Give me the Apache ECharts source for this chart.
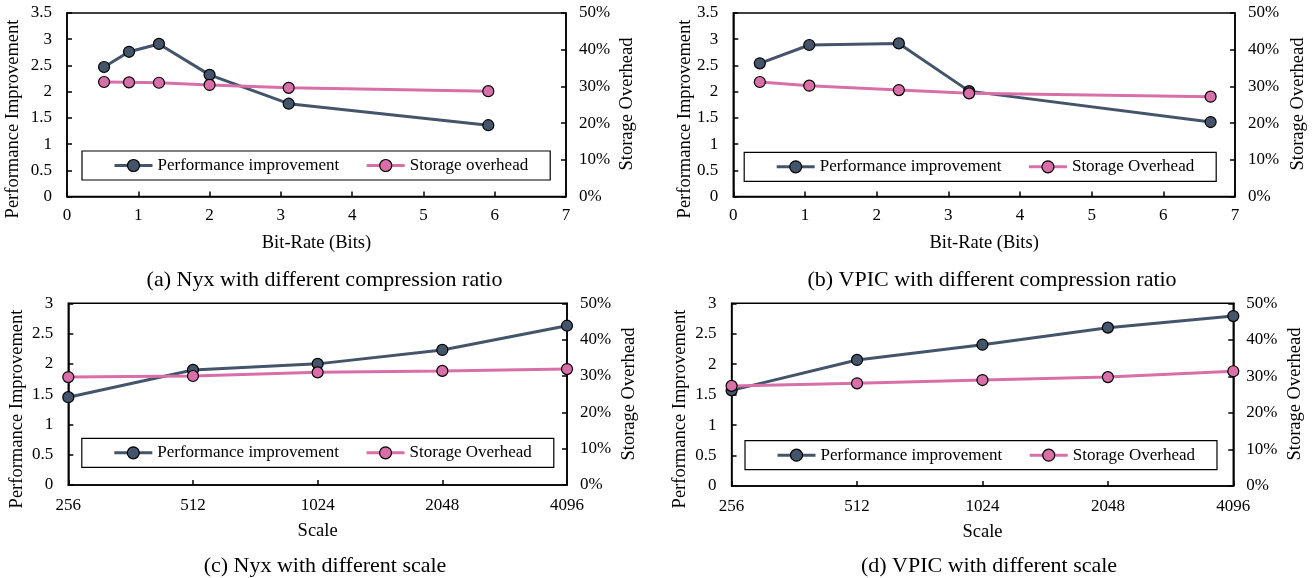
<!DOCTYPE html>
<html>
<head>
<meta charset="utf-8">
<script src="https://cdn.jsdelivr.net/npm/echarts@6/dist/echarts.min.js"></script>
<style>
html,body{margin:0;padding:0;background:#fff;}
#chart{width:1313px;height:578px;}
</style>
</head>
<body>
<div id="chart"></div>
<script>
// ---- data ----
const bitRateNyx = [0.52, 0.87, 1.29, 2.0, 3.11, 5.91];
const perfNyxBits = [2.47, 2.76, 2.91, 2.32, 1.77, 1.36];
const storNyxBits = [31.2, 31.1, 31.0, 30.4, 29.6, 28.7];

const bitRateVpic = [0.37, 1.06, 2.31, 3.29, 6.66];
const perfVpicBits = [2.54, 2.89, 2.92, 2.01, 1.42];
const storVpicBits = [31.2, 30.2, 29.0, 28.1, 27.2];

const scales = ['256', '512', '1024', '2048', '4096'];
const perfNyxScale = [1.45, 1.90, 2.00, 2.23, 2.63];
const storNyxScale = [29.7, 30.0, 31.0, 31.4, 31.9];
const perfVpicScale = [1.57, 2.07, 2.32, 2.60, 2.79];
const storVpicScale = [27.4, 28.1, 29.0, 29.8, 31.4];

const captions = [
  '(a) Nyx with different compression ratio',
  '(b) VPIC with different compression ratio',
  '(c) Nyx with different scale',
  '(d) VPIC with different scale'
];
const perfName = 'Performance improvement';
const storNameA = 'Storage overhead';
const storName = 'Storage Overhead';

// ---- styles ----
const FONT = 'Liberation Serif';
const DARK = '#44546A';
const PINK = '#D96FA8';
const AX = {color: '#000', width: 1.5};

function grid(left, top, width, height) {
  return {left, top, width, height, show: true, borderColor: '#000', borderWidth: 1.5, backgroundColor: 'transparent'};
}
function xValue(gi, name, gap) {
  return {
    gridIndex: gi, type: 'value', min: 0, max: 7, interval: 1,
    axisLine: {show: true, onZero: false, lineStyle: AX},
    axisTick: {show: true, inside: true, length: 5, lineStyle: AX},
    axisLabel: {color: '#000', fontSize: 17, fontFamily: FONT, margin: 11},
    splitLine: {show: false},
    name, nameLocation: 'middle', nameGap: gap,
    nameTextStyle: {color: '#000', fontSize: 18.5, fontFamily: FONT}
  };
}
function xCat(gi, name, gap) {
  return {
    gridIndex: gi, type: 'category', data: scales, boundaryGap: false,
    axisLine: {show: true, onZero: false, lineStyle: AX},
    axisTick: {show: true, inside: true, length: 5, lineStyle: AX},
    axisLabel: {color: '#000', fontSize: 17, fontFamily: FONT, margin: 12, interval: 0},
    splitLine: {show: false},
    name, nameLocation: 'middle', nameGap: gap,
    nameTextStyle: {color: '#000', fontSize: 18.5, fontFamily: FONT}
  };
}
function yLeft(gi, max) {
  return {
    gridIndex: gi, type: 'value', position: 'left', min: 0, max, interval: 0.5,
    axisLine: {show: true, lineStyle: AX},
    axisTick: {show: true, inside: true, length: 5, lineStyle: AX},
    axisLabel: {color: '#000', fontSize: 17, fontFamily: FONT, margin: 15},
    splitLine: {show: false}
  };
}
function yRight(gi) {
  return {
    gridIndex: gi, type: 'value', position: 'right', min: 0, max: 50, interval: 10,
    axisLine: {show: true, lineStyle: AX},
    axisTick: {show: true, inside: true, length: 5, lineStyle: AX},
    axisLabel: {color: '#000', fontSize: 17, fontFamily: FONT, margin: 13, formatter: '{value}%'},
    splitLine: {show: false}
  };
}
function line(name, color, xi, yi, data) {
  return {
    name, type: 'line', xAxisIndex: xi, yAxisIndex: yi, data,
    symbol: 'circle', symbolSize: 11,
    lineStyle: {color, width: 3},
    itemStyle: {color, borderColor: '#000', borderWidth: 1.2},
    emphasis: {disabled: true}
  };
}
function pairs(xs, ys) { return xs.map((x, i) => [x, ys[i]]); }
function legend(left, top, storN) {
  return {
    data: [perfName, storN], left, top, orient: 'horizontal',
    itemWidth: 38, itemHeight: 15, itemGap: 26,
    padding: [6, 22, 6, 31],
    borderColor: '#000', borderWidth: 1.2, backgroundColor: '#fff',
    selectedMode: false,
    lineStyle: {width: 3},
    itemStyle: {borderColor: '#000', borderWidth: 1.2},
    textStyle: {color: '#000', fontSize: 17, fontFamily: FONT}
  };
}
function vText(x, y, text) {
  return {
    type: 'text', x, y, rotation: Math.PI / 2,
    style: {text, fill: '#000', font: '18.5px "' + FONT + '"', align: 'center', verticalAlign: 'middle', textAlign: 'center', textVerticalAlign: 'middle'}
  };
}
function cap(x, y, text) {
  return {
    type: 'text', x, y,
    style: {text, fill: '#000', font: '22px "' + FONT + '"', align: 'center', verticalAlign: 'middle', textAlign: 'center', textVerticalAlign: 'middle'}
  };
}

const option = {
  animation: false,
  backgroundColor: '#fff',
  textStyle: {fontFamily: FONT},
  grid: [
    grid(67, 13, 499, 183.5),
    grid(733.3, 13, 501.7, 183.5),
    grid(68.3, 303.3, 498.7, 181.7),
    grid(731.6, 303.3, 501.7, 182.7)
  ],
  xAxis: [
    xValue(0, 'Bit-Rate (Bits)', 37),
    xValue(1, 'Bit-Rate (Bits)', 37),
    xCat(2, 'Scale', 36.5),
    xCat(3, 'Scale', 36.5)
  ],
  yAxis: [
    yLeft(0, 3.5), yRight(0),
    yLeft(1, 3.5), yRight(1),
    yLeft(2, 3), yRight(2),
    yLeft(3, 3), yRight(3)
  ],
  legend: [
    legend(82, 151, storNameA),
    legend(744.2, 152.3, storName),
    legend(81.8, 438.3, storName),
    legend(745, 440.7, storName)
  ],
  series: [
    line(perfName, DARK, 0, 0, pairs(bitRateNyx, perfNyxBits)),
    line(storNameA, PINK, 0, 1, pairs(bitRateNyx, storNyxBits)),
    line(perfName, DARK, 1, 2, pairs(bitRateVpic, perfVpicBits)),
    line(storName, PINK, 1, 3, pairs(bitRateVpic, storVpicBits)),
    line(perfName, DARK, 2, 4, perfNyxScale),
    line(storName, PINK, 2, 5, storNyxScale),
    line(perfName, DARK, 3, 6, perfVpicScale),
    line(storName, PINK, 3, 7, storVpicScale)
  ],
  graphic: [
    vText(13.3, 119, 'Performance Improvement'),
    vText(626.7, 104, 'Storage Overhead'),
    vText(685, 119, 'Performance Improvement'),
    vText(1298, 104, 'Storage Overhead'),
    vText(16.7, 409, 'Performance Improvement'),
    vText(629, 394, 'Storage Overhead'),
    vText(680, 409, 'Performance Improvement'),
    vText(1295, 394, 'Storage Overhead'),
    cap(324.5, 280, captions[0]),
    cap(992, 280, captions[1]),
    cap(325, 566, captions[2]),
    cap(989, 566, captions[3])
  ]
};

const chart = echarts.init(document.getElementById('chart'), null, {renderer: 'canvas'});
chart.setOption(option);
</script>
</body>
</html>
